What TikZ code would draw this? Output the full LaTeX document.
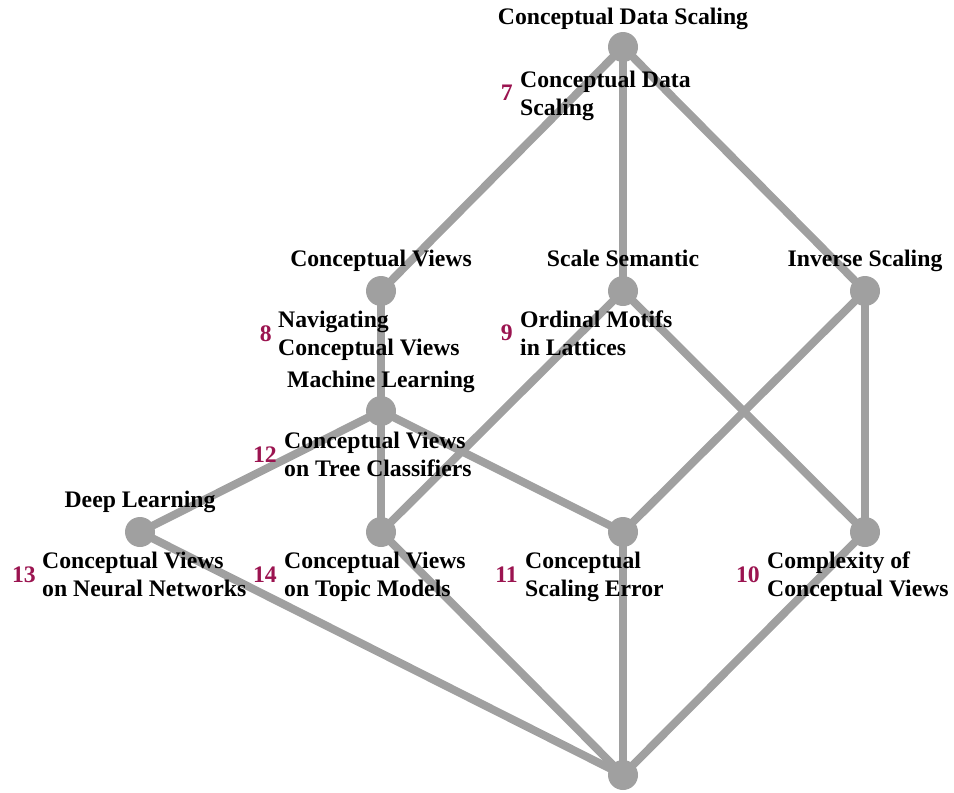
\documentclass[tikz,border=0pt]{standalone}
\usepackage{fontspec}
\setmainfont{Liberation Serif}
\usetikzlibrary{backgrounds}
\definecolor{latgray}{RGB}{160,160,160}
\definecolor{chapnum}{RGB}{155,20,80}
\tikzset{
  x=1pt, y=-1pt,
  concept/.style={circle, fill=latgray, draw=none, minimum size=30pt, inner sep=0pt},
  edge/.style={draw=latgray, line width=8pt},
  title/.style={anchor=base, inner sep=0pt, font=\fontsize{23.7}{28.5}\selectfont\bfseries},
  desc/.style={anchor=base west, inner sep=0pt, font=\fontsize{23.7}{28.5}\selectfont\bfseries},
  num/.style={anchor=base east, inner sep=0pt, text=chapnum, font=\fontsize{23.7}{28.5}\selectfont\bfseries}
}
\newcommand{\twolines}[2]{\begin{tabular}[t]{@{}l@{}}#1\\#2\end{tabular}}
\begin{document}
\begin{tikzpicture}
\useasboundingbox (0,0) rectangle (954,793);

% lattice elements
\node[concept] (top) at (623,47) {};
\node[concept] (cv)  at (381,291) {};
\node[concept] (ss)  at (623,291) {};
\node[concept] (is)  at (865,291) {};
\node[concept] (ml)  at (381,411) {};
\node[concept] (dl)  at (140,532) {};
\node[concept] (tm)  at (381,532) {};
\node[concept] (se)  at (623,532) {};
\node[concept] (cx)  at (865,532) {};
\node[concept] (bot) at (623,775) {};

% cover relation
\begin{pgfonlayer}{background}
\path[edge] (top.center) -- (cv.center);
\path[edge] (top.center) -- (ss.center);
\path[edge] (top.center) -- (is.center);
\path[edge] (cv.center) -- (ml.center);
\path[edge] (ss.center) -- (tm.center);
\path[edge] (ss.center) -- (cx.center);
\path[edge] (is.center) -- (se.center);
\path[edge] (is.center) -- (cx.center);
\path[edge] (ml.center) -- (dl.center);
\path[edge] (ml.center) -- (tm.center);
\path[edge] (ml.center) -- (se.center);
\path[edge] (dl.center) -- (bot.center);
\path[edge] (tm.center) -- (bot.center);
\path[edge] (se.center) -- (bot.center);
\path[edge] (cx.center) -- (bot.center);
\end{pgfonlayer}

% attribute labels
\node[title] (ttop) at (623,24)  {Conceptual Data Scaling};
\node[title] (tcv)  at (381,266) {Conceptual Views};
\node[title] (tss)  at (623,266) {Scale Semantic};
\node[title] (tis)  at (865,266) {Inverse Scaling};
\node[title] (tml)  at (381,387) {Machine Learning};
\node[title] (tdl)  at (140,507) {Deep Learning};

% chapter labels
\node[num]  (n7) at (513,100) {7};
\node[desc] (d7) at (520,87)  {\twolines{Conceptual Data}{Scaling}};
\node[num]  (n8) at (272,341) {8};
\node[desc] (d8) at (278,327) {\twolines{Navigating}{Conceptual Views}};
\node[num]  (n9) at (513,340) {9};
\node[desc] (d9) at (520,327) {\twolines{Ordinal Motifs}{in Lattices}};
\node[num]  (n12) at (277,462) {12};
\node[desc] (d12) at (284,448) {\twolines{Conceptual Views}{on Tree Classifiers}};
\node[num]  (n13) at (36,582) {13};
\node[desc] (d13) at (42,568) {\twolines{Conceptual Views}{on Neural Networks}};
\node[num]  (n14) at (277,582) {14};
\node[desc] (d14) at (284,568) {\twolines{Conceptual Views}{on Topic Models}};
\node[num]  (n11) at (518,582) {11};
\node[desc] (d11) at (525,568) {\twolines{Conceptual}{Scaling Error}};
\node[num]  (n10) at (760,582) {10};
\node[desc] (d10) at (767,568) {\twolines{Complexity of}{Conceptual Views}};
\end{tikzpicture}
\end{document}
